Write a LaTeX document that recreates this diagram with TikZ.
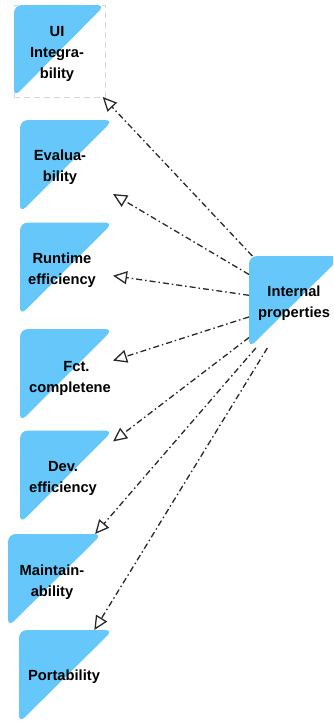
\documentclass[tikz,border=0pt]{standalone}
\usepackage{fontspec}
\setmainfont{Liberation Sans}
\usetikzlibrary{arrows.meta}
\definecolor{tri}{RGB}{102,199,250}
\definecolor{lnk}{RGB}{40,40,40}
\definecolor{dsh}{RGB}{215,215,215}
\begin{document}
\begin{tikzpicture}[x=1pt,y=-1pt,
  box/.style={minimum width=93pt, minimum height=93pt, inner sep=0pt, outer sep=0pt},
  lbl/.style={align=center, inner sep=0pt, font=\bfseries\fontsize{14.7}{21}\selectfont, text=black},
  link/.style={draw=lnk, line width=1.3pt, dash pattern=on 6pt off 3pt on 1.5pt off 3pt,
    -{Triangle[open, length=14pt, width=13pt, line width=1.3pt]}}]
\clip (0,0) rectangle (333,724);
\node[box, minimum width=91pt, minimum height=92pt, draw=dsh, line width=1pt, dash pattern=on 6pt off 4pt] (ui) at (59.5,51) {};
\node[box] (ev) at (66.5,166.5) {};
\node[box] (rt) at (66.5,269) {};
\node[box] (fc) at (66.5,375.5) {};
\node[box] (dv) at (66.5,477) {};
\node[box, minimum width=94pt] (mt) at (55,580.5) {};
\node[box, minimum width=94pt] (pt) at (66,676.5) {};
\node[box, minimum width=93pt, minimum height=92pt] (ip) at (295.5,302) {};

\foreach \n in {ui,ev,rt,fc,dv,mt,pt,ip}{
  \path[fill=tri, rounded corners=8pt] (\n.north west) -- (\n.north east) -- (\n.south west) -- cycle;
}

\node[lbl] (uiT) at (57,54) {UI\\Integra-\\bility};
\node[lbl] (evT) at (60,167) {Evalua-\\bility};
\node[lbl] (rtT) at (62,270) {Runtime\\efficiency};
\node[lbl] (fcT) at (70,378) {\hspace*{13pt}Fct.\\completene};
\node[lbl] (dvT) at (63,478) {Dev.\\efficiency};
\node[lbl] (mtT) at (52,582) {Maintain-\\ability};
\node[lbl] (ptT) at (64,677) {Portability};
\node[lbl] (ipT) at (294,303) {Internal\\properties};

\draw[link] (ip) -- (ui);
\draw[link] (ip) -- (ev);
\draw[link] (ip) -- (rt);
\draw[link] (ip) -- (fc);
\draw[link] (ip) -- (dv);
\draw[link] (ip) -- (mt);
\draw[link] (ip) -- (pt);
\end{tikzpicture}
\end{document}
